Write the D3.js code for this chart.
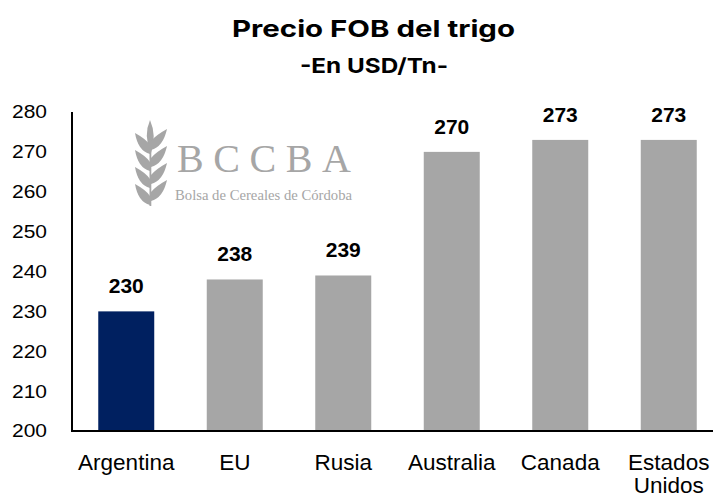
<!DOCTYPE html>
<html>
<head>
<meta charset="utf-8">
<script src="https://cdn.jsdelivr.net/npm/d3@7"></script>
<style>
  html, body { margin: 0; padding: 0; background: #fff; }
  svg { display: block; }
</style>
</head>
<body>
<script>
const categories = ["Argentina", "EU", "Rusia", "Australia", "Canada", "Estados Unidos"];
const values = [230, 238, 239, 270, 273, 273];
const highlight = ["Argentina"];
const yTicks = [200, 210, 220, 230, 240, 250, 260, 270, 280];
const titleText = "Precio FOB del trigo";
const subtitleText = "-En USD/Tn-";

const W = 713, H = 497;
const svg = d3.select("body").append("svg").attr("width", W).attr("height", H);

const x = d3.scaleBand().domain(categories).range([72, 723]).paddingInner(0.484).paddingOuter(0.242);
const y = d3.scaleLinear().domain([200, 280]).range([431, 112]);

// Title
svg.append("text").attr("x", 232).attr("y", 37)
  .attr("font-family", "Inter, Liberation Sans, Arial, sans-serif").attr("font-weight", 700)
  .attr("font-size", 23.5).attr("fill", "#000")
  .attr("textLength", 283).attr("lengthAdjust", "spacingAndGlyphs").text(titleText);
svg.append("text").attr("x", 300).attr("y", 73)
  .attr("font-family", "Inter, Liberation Sans, Arial, sans-serif").attr("font-weight", 700)
  .attr("font-size", 20.5).attr("fill", "#000")
  .attr("textLength", 148).attr("lengthAdjust", "spacingAndGlyphs").text(subtitleText);

// Logo (decorative watermark)
const logo = svg.append("g").attr("fill", "#a6a6a6");
logo.append("path").attr("d", "M150,120 Q157,136 151,153 Q143,136 150,120 Z");
[154, 171, 188, 205].forEach(by => {
  logo.append("path").attr("d", `M150,${by} Q138,${by-3} 135,${by-21} Q146,${by-15} 150,${by-9} Z`);
});
[150, 167, 184, 201].forEach(by => {
  logo.append("path").attr("d", `M151,${by} Q163,${by-3} 167,${by-21} Q156,${by-15} 151,${by-9} Z`);
});
logo.append("rect").attr("x", 149.5).attr("y", 145).attr("width", 1.8).attr("height", 61);
logo.append("text").attr("x", 177).attr("y", 172)
  .attr("font-family", "Liberation Serif, Times New Roman, serif").attr("font-size", 40)
  .attr("textLength", 174).attr("lengthAdjust", "spacing").text("BCCBA");
logo.append("text").attr("x", 175).attr("y", 200)
  .attr("font-family", "Liberation Serif, Times New Roman, serif").attr("font-size", 14)
  .attr("textLength", 177).attr("lengthAdjust", "spacingAndGlyphs").text("Bolsa de Cereales de Córdoba");

// Bars
svg.append("g").selectAll("rect").data(categories).join("rect")
  .attr("x", d => x(d)).attr("width", x.bandwidth())
  .attr("y", (d, i) => y(values[i])).attr("height", (d, i) => y(200) - y(values[i]))
  .attr("fill", d => highlight.includes(d) ? "#002060" : "#a6a6a6");

// Value labels
svg.append("g").selectAll("text").data(categories).join("text")
  .attr("x", d => x(d) + x.bandwidth() / 2).attr("y", (d, i) => y(values[i]) - 18)
  .attr("text-anchor", "middle").attr("font-family", "Liberation Sans, Arial, sans-serif")
  .attr("font-weight", "bold").attr("font-size", 21).attr("fill", "#000")
  .text((d, i) => values[i]);

// Y axis
const yAxis = d3.axisLeft(y).tickValues(yTicks).tickSize(0).tickPadding(25);
const gy = svg.append("g").attr("transform", "translate(72,0)").call(yAxis);
gy.select(".domain").attr("stroke", "#000").attr("stroke-width", 2).attr("d", `M0,${y(280)}V${y(200)}`);
gy.selectAll("text").attr("font-family", "Liberation Sans, Arial, sans-serif").attr("font-size", 18.6)
  .attr("fill", "#000").attr("textLength", 35).attr("lengthAdjust", "spacingAndGlyphs");

// X axis
const xAxis = d3.axisBottom(x).tickSize(0).tickPadding(0).tickFormat("");
const gx = svg.append("g").attr("transform", `translate(0,${y(200)})`).call(xAxis);
gx.select(".domain").attr("stroke", "#000").attr("stroke-width", 2).attr("d", `M71,0H713`);
gx.selectAll(".tick").each(function(d) {
  const t = d3.select(this).append("text").attr("fill", "#000")
    .attr("font-family", "Liberation Sans, Arial, sans-serif")
    .attr("font-size", 22.5).attr("text-anchor", "middle");
  const words = d === "Estados Unidos" ? ["Estados", "Unidos"] : [d];
  words.forEach((w, i) => t.append("tspan").attr("x", 0).attr("y", 39 + i * 23).text(w));
});
</script>
</body>
</html>
